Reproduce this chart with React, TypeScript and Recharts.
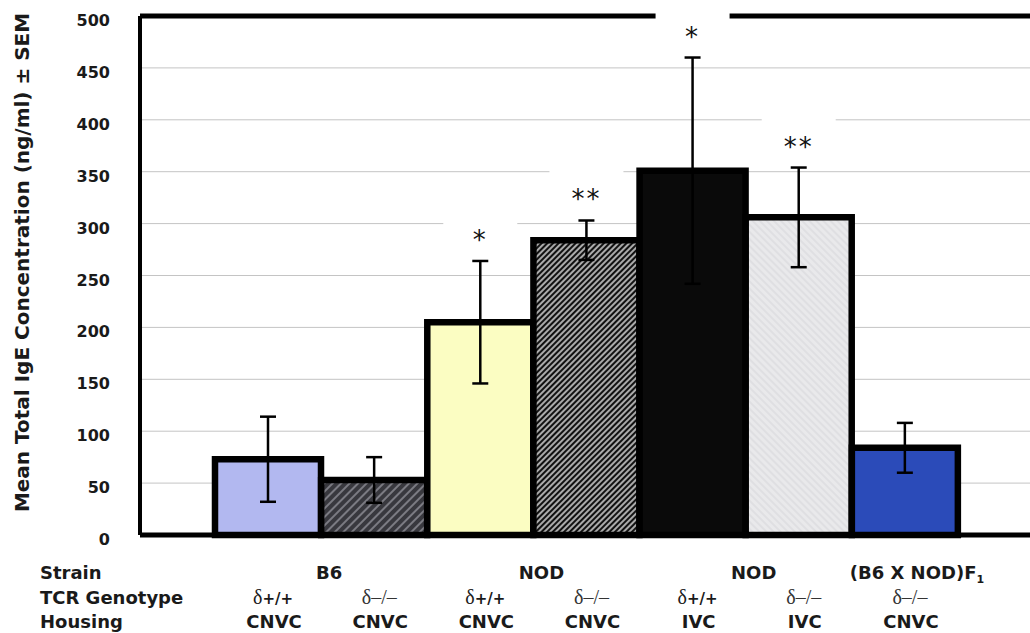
import React from 'react';
import {
  BarChart,
  Bar,
  XAxis,
  YAxis,
  CartesianGrid,
  ErrorBar,
  Cell,
  LabelList,
  ReferenceLine
} from 'recharts';

// groups, left to right
const groupIds = ['B6-wt-CNVC', 'B6-ko-CNVC', 'NOD-wt-CNVC', 'NOD-ko-CNVC', 'NOD-wt-IVC', 'NOD-ko-IVC', 'F1-ko-CNVC'];
const strainLabels = ['B6', '', 'NOD', '', 'NOD', '', '(B6 X NOD)F'];
const strainSpans = [2, 0, 2, 0, 2, 0, 1];
const genotypeLabels = ['δ+/+', 'δ–/–', 'δ+/+', 'δ–/–', 'δ+/+', 'δ–/–', 'δ–/–'];
const housingLabels = ['CNVC', 'CNVC', 'CNVC', 'CNVC', 'IVC', 'IVC', 'CNVC'];

// mean total IgE (ng/ml) and SEM
const meanIgE = [73, 53, 205, 284, 351, 306, 84];
const semIgE = [41, 22, 59, 19, 109, 48, 24];
const stars = ['', '', '*', '**', '*', '**', ''];

const yTicks = [0, 50, 100, 150, 200, 250, 300, 350, 400, 450, 500];

const barFills = [
  '#b2b8f0',
  'url(#hatchDark)',
  '#fbfdc2',
  'url(#hatchDense)',
  '#0a0a0a',
  'url(#hatchLight)',
  '#2b4bb9'
];

const data = groupIds.map((g, i) => ({ group: g, mean: meanIgE[i], sem: semIgE[i] }));

const SANS = '"DejaVu Sans", Arial, sans-serif';
const SERIF = '"Liberation Serif", "DejaVu Serif", serif';

function YTick(props: any) {
  const { x, y, payload } = props;
  return (
    <text x={x} y={y} dy={10} textAnchor="end" fontFamily={SANS} fontWeight="bold" fontSize={16} fill="#1a1a1a">
      {payload.value}
    </text>
  );
}

function YLabel(props: any) {
  const vb = props.viewBox || {};
  const cy = (vb.y ?? 16) + (vb.height ?? 519) / 2 - 13;
  const cx = 29;
  return (
    <text
      x={cx}
      y={cy}
      textAnchor="middle"
      transform={`rotate(-90 ${cx} ${cy})`}
      fontFamily={SANS}
      fontWeight="bold"
      fontSize={20}
      fill="#1a1a1a"
    >
      Mean Total IgE Concentration (ng/ml) ± SEM
    </text>
  );
}

function BottomTick(props: any) {
  const { x, y, payload } = props;
  const i = payload.index ?? props.index ?? 0;
  const band = payload.offset ? payload.offset * 2 : 106;
  const left = x - band / 2;
  const strainX = left + (strainSpans[i] * band) / 2 + (strainSpans[i] === 2 ? 8 : 12);
  const geno = genotypeLabels[i];
  const isWild = geno.includes('+');
  return (
    <g>
      {i === 0 && (
        <g fontFamily={SANS} fontWeight="bold" fontSize={18} fill="#1a1a1a">
          <text x={40} y={y + 44}>Strain</text>
          <text x={40} y={y + 69}>TCR Genotype</text>
          <text x={40} y={y + 93}>Housing</text>
        </g>
      )}
      {strainLabels[i] && (
        <text x={strainX} y={y + 44} textAnchor="middle" fontFamily={SANS} fontWeight="bold" fontSize={18} fill="#1a1a1a">
          {strainLabels[i]}
          {i === 6 && (
            <tspan fontSize={11} dy={4}>1</tspan>
          )}
        </text>
      )}
      <text x={x + 5} y={y + 69} textAnchor="middle" fill="#1a1a1a">
        {isWild ? (
          <>
            <tspan fontFamily={SERIF} fontSize={20}>δ</tspan>
            <tspan fontFamily={SANS} fontWeight="bold" fontSize={15}>+/+</tspan>
          </>
        ) : (
          <tspan fontFamily={SERIF} fontSize={20} fill="#333">{geno}</tspan>
        )}
      </text>
      <text x={x + 6} y={y + 93} textAnchor="middle" fontFamily={SANS} fontWeight="bold" fontSize={18} fill="#1a1a1a">
        {housingLabels[i]}
      </text>
    </g>
  );
}

function StarLabel(props: any) {
  const vb = props.viewBox || props;
  const i = props.index;
  const s = stars[i];
  if (!s) return null;
  const value = Number(props.value ?? meanIgE[i]);
  const pxPerUnit = vb.height / value;
  const cx = vb.x + vb.width / 2;
  const errTop = vb.y - semIgE[i] * pxPerUnit;
  const starMid = errTop - 26;
  return (
    <g>
      <rect x={cx - 37} y={starMid - 28} width={74} height={42} fill="#fff" />
      <text x={cx} y={starMid + 14} textAnchor="middle" fontFamily={SANS} fontSize={26} letterSpacing={2} fill="#111">
        {s}
      </text>
    </g>
  );
}

export default function App() {
  return (
    <div style={{ position: 'fixed', left: 0, top: 0, width: 1030, height: 633, overflow: 'hidden', background: '#fff' }}>
      <svg width={0} height={0} style={{ position: 'absolute' }}>
        <defs>
          <pattern id="hatchDark" width={6} height={6} patternUnits="userSpaceOnUse" patternTransform="rotate(45)">
            <rect width={6} height={6} fill="#38383e" />
            <line x1={1} y1={0} x2={1} y2={6} stroke="#8c8c94" strokeWidth={1.6} />
          </pattern>
          <pattern id="hatchDense" width={4} height={4} patternUnits="userSpaceOnUse" patternTransform="rotate(45)">
            <rect width={4} height={4} fill="#111" />
            <line x1={1} y1={0} x2={1} y2={4} stroke="#d0d0d0" strokeWidth={1.6} />
          </pattern>
          <pattern id="hatchLight" width={5} height={5} patternUnits="userSpaceOnUse" patternTransform="rotate(-45)">
            <rect width={5} height={5} fill="#e9e9eb" />
            <line x1={1} y1={0} x2={1} y2={5} stroke="#d6d6da" strokeWidth={1} />
          </pattern>
        </defs>
      </svg>
      <BarChart
        width={1100}
        height={633}
        data={data}
        margin={{ top: 16, right: 67, bottom: 0, left: 0 }}
        barCategoryGap={0}
      >
        <CartesianGrid vertical={false} stroke="#c4c4c4" />
        <XAxis
          dataKey="group"
          type="category"
          interval={0}
          padding={{ left: 75, right: 75 }}
          height={98}
          axisLine={{ stroke: '#000', strokeWidth: 5 }}
          tickLine={false}
          tickSize={0}
          tickMargin={0}
          tick={<BottomTick />}
        />
        <YAxis
          domain={[0, 500]}
          ticks={yTicks}
          width={140}
          axisLine={{ stroke: '#000', strokeWidth: 4 }}
          tickLine={false}
          tickSize={0}
          tickMargin={30}
          tick={<YTick />}
          label={<YLabel />}
        />
        <ReferenceLine y={500} stroke="#000" strokeWidth={5} />
        <Bar dataKey="mean" stroke="#000" strokeWidth={6.5} isAnimationActive={false}>
          {data.map((d, i) => (
            <Cell key={d.group} fill={barFills[i]} />
          ))}
          <ErrorBar dataKey="sem" width={8} stroke="#000" strokeWidth={2.5} isAnimationActive={false} />
          <LabelList dataKey="mean" content={<StarLabel />} />
        </Bar>
      </BarChart>
    </div>
  );
}
